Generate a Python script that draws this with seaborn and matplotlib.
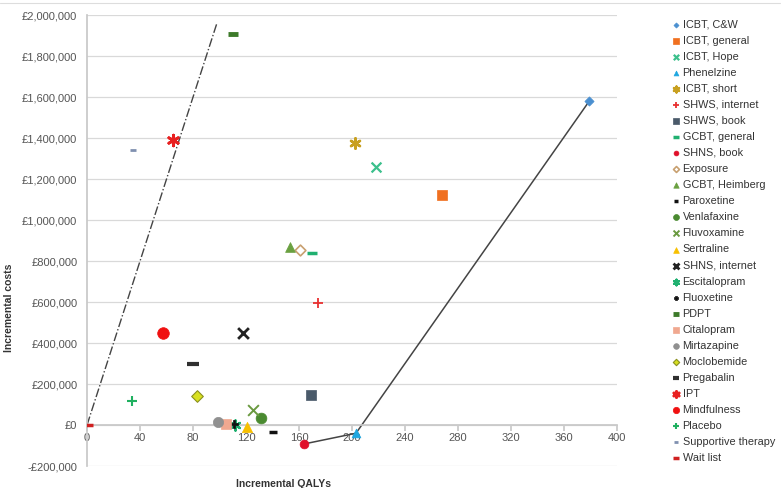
import matplotlib
matplotlib.use("Agg")
import matplotlib.pyplot as plt
import seaborn as sns
from matplotlib.ticker import FuncFormatter, MultipleLocator

# ── data ─────────────────────────────────────────────────────
treatments = [
    "ICBT, C&W", "ICBT, general", "ICBT, Hope", "Phenelzine", "ICBT, short",
    "SHWS, internet", "SHWS, book", "GCBT, general", "SHNS, book", "Exposure",
    "GCBT, Heimberg", "Paroxetine", "Venlafaxine", "Fluvoxamine", "Sertraline",
    "SHNS, internet", "Escitalopram", "Fluoxetine", "PDPT", "Citalopram",
    "Mirtazapine", "Moclobemide", "Pregabalin", "IPT", "Mindfulness",
    "Placebo", "Supportive therapy", "Wait list",
]
qalys = [379, 268, 218, 203, 202, 174, 169, 170, 164, 161,
         153, 140, 131, 125, 121, 118, 112, 111, 110, 105,
         99, 83, 80, 65, 57, 34, 35, 0]
costs = [1580000, 1120000, 1260000, -40000, 1375000, 595000, 145000, 840000, -92000, 852000,
         870000, -35000, 34000, 73000, -10000, 447000, -2000, 3000, 1910000, 5000,
         15000, 143000, 300000, 1390000, 447000, 117000, 1340000, 0]

# efficiency frontier and threshold line
frontier_x = [164, 203, 379]
frontier_y = [-92000, -40000, 1580000]
wtp_x = [0, 98]
wtp_y = [0, 1960000]

# marker, colour, size, edge colour, line width
styles = {
    "ICBT, C&W": ("D", "#4a8fd0", 22, "#4a8fd0", 0.5),
    "ICBT, general": ("s", "#f07020", 55, "#f07020", 0.5),
    "ICBT, Hope": ("x", "#3cc08c", 50, None, 1.6),
    "Phenelzine": ("^", "#1fa7e0", 40, "#1fa7e0", 0.5),
    "ICBT, short": ((6, 2, 0), "#c8a020", 55, None, 1.8),
    "SHWS, internet": ("+", "#e83030", 55, None, 1.3),
    "SHWS, book": ("s", "#4a5a6a", 60, "#4a5a6a", 0.5),
    "GCBT, general": ("_", "#20b070", 60, None, 2.5),
    "SHNS, book": ("o", "#e0102a", 40, "#e0102a", 0.5),
    "Exposure": ("D", "white", 30, "#c8a070", 1.2),
    "GCBT, Heimberg": ("^", "#6aa040", 50, "#6aa040", 0.5),
    "Paroxetine": ("_", "#111111", 30, None, 2.5),
    "Venlafaxine": ("o", "#4a8a30", 60, "#4a8a30", 0.5),
    "Fluvoxamine": ("x", "#6a9a40", 60, None, 1.4),
    "Sertraline": ("^", "#f8c000", 55, "#f8c000", 0.5),
    "SHNS, internet": ("x", "#222222", 60, None, 2.0),
    "Escitalopram": ((6, 2, 0), "#20b070", 55, None, 1.6),
    "Fluoxetine": ("P", "#111111", 40, "#111111", 0.5),
    "PDPT": ("_", "#3d7a2a", 60, None, 3.5),
    "Citalopram": ("s", "#f0a890", 55, "#f0a890", 0.5),
    "Mirtazapine": ("o", "#909090", 55, "#909090", 0.5),
    "Moclobemide": ("D", "#d8e020", 35, "#8a9020", 0.8),
    "Pregabalin": ("_", "#303030", 70, None, 3.0),
    "IPT": ((6, 2, 0), "#e82020", 60, None, 2.0),
    "Mindfulness": ("o", "#f01010", 70, "#f01010", 0.5),
    "Placebo": ("+", "#20b060", 60, None, 1.5),
    "Supportive therapy": ("_", "#8090b0", 25, None, 2.0),
    "Wait list": ("_", "#d02020", 80, None, 2.5),
}

sns.set_theme(style="white")
plt.rcParams["font.family"] = ["Liberation Sans", "DejaVu Sans"]

fig = plt.figure(figsize=(7.84, 4.88), dpi=100)
ax = fig.add_axes([0.111, 0.045, 0.676, 0.924])

ax.plot(frontier_x, frontier_y, color="#444444", linewidth=1.1, zorder=2)
ax.plot(wtp_x, wtp_y, color="#444444", linewidth=1.0, linestyle="-.", zorder=2)

for name, qx, cy in zip(treatments, qalys, costs):
    m, c, s, ec, lw = styles[name]
    if ec is None:
        ax.scatter([qx], [cy], marker=m, color=c, s=s, linewidths=lw, label=name, zorder=3)
    else:
        sns.scatterplot(x=[qx], y=[cy], marker=m, color=c, s=s, edgecolor=ec,
                        linewidth=lw, label=name, ax=ax, zorder=3)

ax.set_xlim(0, 400)
ax.set_ylim(-200000, 2000000)
ax.xaxis.set_major_locator(MultipleLocator(40))
ax.yaxis.set_major_locator(MultipleLocator(200000))


def pounds(v, pos):
    v = int(round(v))
    return f"-£{abs(v):,}" if v < 0 else f"£{v:,}"


ax.yaxis.set_major_formatter(FuncFormatter(pounds))
ax.grid(axis="y", color="#d9d9d9", linewidth=0.9)
ax.grid(axis="x", visible=False)
ax.set_axisbelow(True)

# x axis crosses at zero
ax.spines["bottom"].set_position(("data", 0))
ax.spines["bottom"].set_color("#c8c8c8")
ax.spines["left"].set_color("#c8c8c8")
ax.spines["top"].set_visible(False)
ax.spines["right"].set_visible(False)
ax.tick_params(axis="x", which="major", direction="out", length=4, color="#c8c8c8",
               labelsize=8, labelcolor="#555555", bottom=True, pad=2)
ax.tick_params(axis="y", labelsize=8, labelcolor="#555555", left=False, pad=1)

ax.set_xlabel("Incremental QALYs", fontsize=7.5, fontweight="bold", color="#333333")
ax.xaxis.set_label_coords(0.37, -0.028)
ax.set_ylabel("Incremental costs", fontsize=7.5, fontweight="bold", color="#333333")
ax.yaxis.set_label_coords(-0.137, 0.35)

leg = ax.legend(loc="upper left", bbox_to_anchor=(1.093, 1.0), frameon=False,
                fontsize=7.8, handletextpad=0.1, labelspacing=0.56, handlelength=1.0,
                borderaxespad=0, markerscale=0.55)
for t in leg.get_texts():
    t.set_color("#333333")

fig.add_artist(plt.Line2D([0.0, 0.995], [0.994, 0.994], color="#dddddd", linewidth=0.8))

fig.savefig("out.png", dpi=100)
